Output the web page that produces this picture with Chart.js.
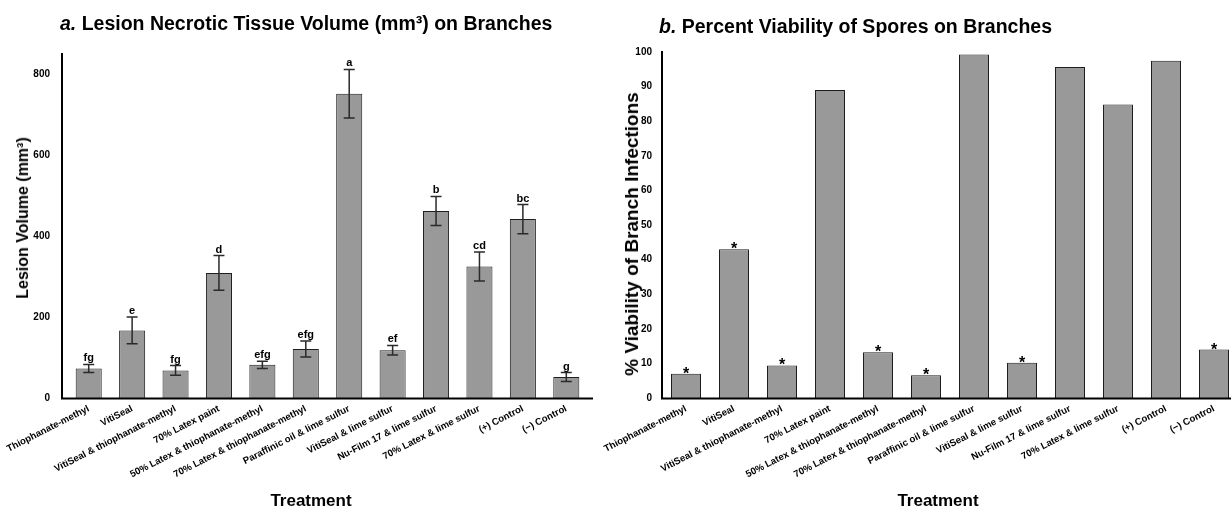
<!DOCTYPE html>
<html>
<head>
<meta charset="utf-8">
<title>Lesion volume and spore viability on branches</title>
<script src="https://cdn.jsdelivr.net/npm/chart.js@4/dist/chart.umd.min.js"></script>
<style>
  html, body { margin: 0; padding: 0; background: #fff; }
  body {
    width: 1231px; height: 510px; overflow: hidden; position: relative;
    font-family: 'Liberation Sans', Arial, Helvetica, sans-serif; color: #000;
  }
  .panel { position: absolute; top: 0; }
  #panelA { left: 0; width: 610px; height: 510px; }
  #panelB { left: 590px; width: 648px; height: 510px; }
  .title { position: absolute; font-weight: bold; font-size: 19.5px; line-height: 22px; white-space: nowrap; }
  .title i { font-style: italic; }
  .axis-title { position: absolute; font-weight: bold; white-space: nowrap; }
  .x-title { font-size: 17px; line-height: 20px; transform: translateX(-50%); }
  .y-title { transform: translate(-50%, -50%) rotate(-90deg); }
</style>
</head>
<body>
<div class="panel" id="panelA"><canvas id="lesionChart" width="610" height="510"></canvas></div>
<div class="panel" id="panelB"><canvas id="sporeChart" width="648" height="510"></canvas></div>

<div class="title" style="left:60px; top:12px;"><i>a.</i> Lesion Necrotic Tissue Volume (mm³) on Branches</div>
<div class="title" style="left:659px; top:15px;"><i>b.</i> Percent Viability of Spores on Branches</div>

<div class="axis-title y-title" style="left:23px; top:218px; font-size:16px; line-height:20px;">Lesion Volume (mm³)</div>
<div class="axis-title y-title" style="left:632px; top:234px; font-size:19px; line-height:22px;">% Viability of Branch Infections</div>
<div class="axis-title x-title" style="left:311px; top:491px;">Treatment</div>
<div class="axis-title x-title" style="left:938px; top:491px;">Treatment</div>

<script>
// Treatments (shared category axis for both panels)
const treatments = [
  'Thiophanate-methyl',
  'VitiSeal',
  'VitiSeal & thiophanate-methyl',
  '70% Latex paint',
  '50% Latex & thiophanate-methyl',
  '70% Latex & thiophanate-methyl',
  'Paraffinic oil & lime sulfur',
  'VitiSeal & lime sulfur',
  'Nu-Film 17 & lime sulfur',
  '70% Latex & lime sulfur',
  '(+) Control',
  '(\u2212) Control'
];

// Panel a: mean lesion volume (mm³), standard error, and mean-separation letters
const lesionVolume = [73, 167, 68, 309, 82, 121, 752, 118, 462, 325, 442, 52];
const lesionError  = [10, 33, 12, 43, 9, 20, 60, 12, 36, 36, 36, 11];
const lesionGroups = ['fg', 'e', 'fg', 'd', 'efg', 'efg', 'a', 'ef', 'b', 'cd', 'bc', 'g'];
const lesionTicks  = [0, 200, 400, 600, 800];

// Panel b: percent viability of branch infections; '*' marks a significant difference
const sporeViability = [7, 43, 9.4, 89, 13.2, 6.6, 99.3, 10.2, 95.7, 84.8, 97.5, 14];
const sporeMarks     = ['*', '*', '*', '', '*', '*', '', '*', '', '', '', '*'];
const sporeTicks     = [0, 10, 20, 30, 40, 50, 60, 70, 80, 90, 100];

const FONT = "'Liberation Sans', Arial, Helvetica, sans-serif";
Chart.defaults.font.family = FONT;
Chart.defaults.color = '#000';

// Black L-shaped axis frame; the left chart's axes stick out a few pixels past the plot.
const axisFrame = {
  id: 'axisFrame',
  afterDatasetsDraw(chart, args, opts) {
    const { ctx, chartArea: a } = chart;
    const o = opts.overhang || 0;
    ctx.save();
    ctx.strokeStyle = '#000';
    ctx.lineWidth = 2;
    ctx.beginPath();
    ctx.moveTo(a.left - o, a.top - 1);
    ctx.lineTo(a.left - o, a.bottom + 1);
    ctx.moveTo(a.left - o - 1, a.bottom + 0.5);
    ctx.lineTo(a.right + o, a.bottom + 0.5);
    ctx.stroke();
    ctx.restore();
  }
};

// Error bars and the text that sits on top of each bar (letters or asterisks).
const barMarks = {
  id: 'barMarks',
  afterDatasetsDraw(chart) {
    const { ctx, scales: { y } } = chart;
    const ds = chart.data.datasets[0];
    const meta = chart.getDatasetMeta(0);
    ctx.save();
    meta.data.forEach((bar, i) => {
      const v = ds.data[i];
      const x = bar.x;
      let top = y.getPixelForValue(v);
      if (ds.errorBars) {
        const e = ds.errorBars[i];
        const hi = y.getPixelForValue(v + e);
        const lo = y.getPixelForValue(v - e);
        ctx.strokeStyle = '#2a2a2a';
        ctx.lineWidth = 1.5;
        ctx.beginPath();
        ctx.moveTo(x, hi); ctx.lineTo(x, lo);
        ctx.moveTo(x - 5.5, hi); ctx.lineTo(x + 5.5, hi);
        ctx.moveTo(x - 5.5, lo); ctx.lineTo(x + 5.5, lo);
        ctx.stroke();
        top = hi;
      }
      const txt = ds.topText ? ds.topText[i] : '';
      if (txt) {
        ctx.fillStyle = '#000';
        ctx.textAlign = 'center';
        ctx.textBaseline = 'alphabetic';
        if (ds.errorBars) {
          ctx.font = `bold 11px ${FONT}`;
          ctx.fillText(txt, x, top - 3);
        } else {
          ctx.font = `bold 16px ${FONT}`;
          ctx.fillText(txt, x, top + 5);
        }
      }
    });
    ctx.restore();
  }
};

function makeChart(canvasId, cfg) {
  return new Chart(document.getElementById(canvasId), {
    type: 'bar',
    data: {
      labels: treatments,
      datasets: [{
        data: cfg.values,
        errorBars: cfg.errors,
        topText: cfg.topText,
        backgroundColor: '#999999',
        borderColor: '#1e1e1e',
        borderWidth: 1,
        barPercentage: cfg.barPct,
        categoryPercentage: 1
      }]
    },
    options: {
      responsive: false,
      animation: false,
      devicePixelRatio: 1,
      layout: { padding: cfg.padding },
      plugins: {
        legend: { display: false },
        tooltip: { enabled: false },
        axisFrame: { overhang: cfg.overhang }
      },
      scales: {
        x: {
          offset: true,
          grid: { display: false, drawTicks: false },
          border: { display: false },
          ticks: {
            autoSkip: false, minRotation: 27, maxRotation: 27, padding: 5,
            font: { size: 9.6, weight: 'bold' }, color: '#000'
          },
          afterFit(s) { s.height = 112; s.paddingLeft = 0; s.paddingRight = 0; }
        },
        y: {
          min: 0, max: cfg.max,
          grid: { display: false, drawTicks: false },
          border: { display: false },
          afterBuildTicks(s) { s.ticks = cfg.ticks.map(v => ({ value: v })); },
          ticks: {
            padding: cfg.tickPad,
            font: { size: cfg.tickSize, weight: 'bold' }, color: '#000'
          },
          afterFit(s) { s.width = cfg.yWidth; s.paddingTop = 0; s.paddingBottom = 0; }
        }
      }
    },
    plugins: [axisFrame, barMarks]
  });
}

makeChart('lesionChart', {
  values: lesionVolume, errors: lesionError, topText: lesionGroups,
  ticks: lesionTicks, max: 850, barPct: 0.6,
  padding: { top: 54, right: 22, left: 0, bottom: 0 },
  yWidth: 67, tickPad: 17, tickSize: 10, overhang: 5
});

makeChart('sporeChart', {
  values: sporeViability, errors: null, topText: sporeMarks,
  ticks: sporeTicks, max: 100, barPct: 0.625,
  padding: { top: 52, right: 0, left: 0, bottom: 0 },
  yWidth: 72, tickPad: 10, tickSize: 10, overhang: 0
});
</script>
</body>
</html>
